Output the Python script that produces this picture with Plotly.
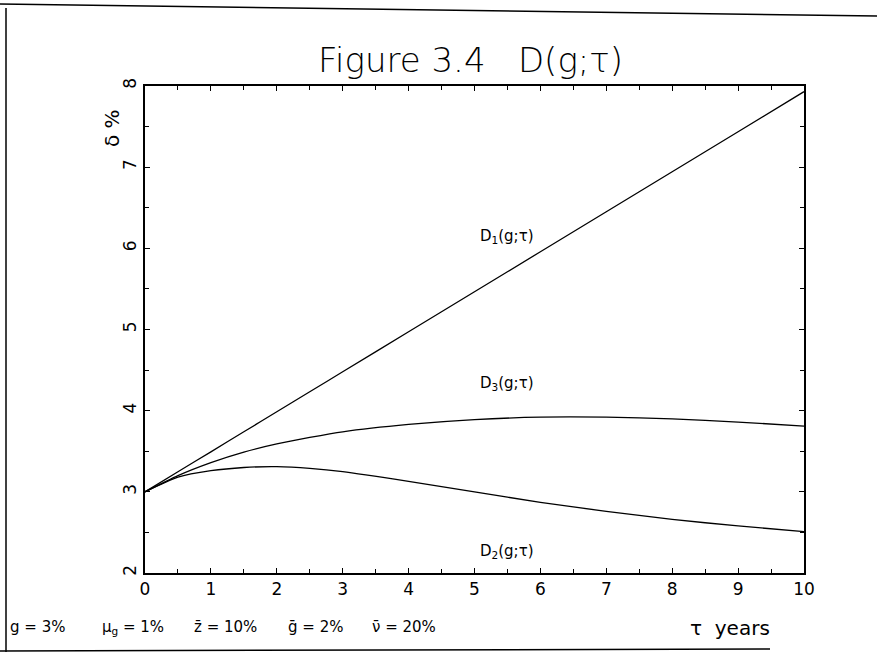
import plotly.graph_objects as go

# maturity in years
tau = [0, 0.5, 1, 1.5, 2, 2.5, 3, 4, 5, 6, 7, 8, 9, 10]

# D1: straight line
d1 = [3.0, 3.247, 3.493, 3.74, 3.986, 4.233, 4.479, 4.972, 5.465, 5.958, 6.451, 6.944, 7.437, 7.93]
# D2: hump then decline
d2 = [3.0, 3.18, 3.26, 3.30, 3.31, 3.29, 3.25, 3.13, 3.00, 2.87, 2.76, 2.66, 2.58, 2.51]
# D3: rises and flattens
d3 = [3.0, 3.20, 3.36, 3.49, 3.59, 3.67, 3.74, 3.83, 3.89, 3.92, 3.92, 3.90, 3.86, 3.81]

x_ticks = list(range(0, 11))
y_ticks = list(range(2, 9))

footnote = ["g = 3%", "μ<sub>g</sub> = 1%", "z\u0304 = 10%", "g\u0304 = 2%", "ν\u0304 = 20%"]
footnote_x = [8, 100, 192, 286, 370]

FONT = "DejaVu Sans"
W, H = 877, 658
L, R, T, B = 145, 804, 86, 573

fig = go.Figure()
for ys in (d1, d2, d3):
    fig.add_trace(go.Scatter(x=tau, y=ys, mode="lines",
                             line=dict(color="black", width=1.3, shape="spline", smoothing=0.6),
                             showlegend=False, hoverinfo="skip"))

axis_common = dict(
    showgrid=False, zeroline=False, showline=True, linecolor="black", linewidth=2,
    mirror="allticks", ticks="inside", ticklen=5, tickcolor="black", tickwidth=1.3,
    minor=dict(ticks="inside", ticklen=4, tickcolor="black", tickwidth=1.3, dtick=0.5),
    tickfont=dict(family=FONT, size=17, color="black"),
)
fig.update_xaxes(range=[0, 10], tickvals=x_ticks, ticktext=[str(v) for v in x_ticks], **axis_common)
fig.update_yaxes(range=[2, 8], tickvals=y_ticks, ticktext=[str(v) for v in y_ticks], tickangle=-90, **axis_common)


def px(x):
    return (x - L) / (R - L)


def py(y):
    return (B - y) / (B - T)


def note(text, x, y, size, xanchor="center", angle=0, weight=400):
    fig.add_annotation(text=text, xref="paper", yref="paper", x=px(x), y=py(y),
                       xanchor=xanchor, yanchor="middle", textangle=angle, showarrow=False,
                       font=dict(family=FONT, size=size, color="black", weight=weight))


note("Figure 3.4   D(g;τ)", 470, 60, 34, weight=200)
note("δ %", 112, 128, 20, angle=-90)
note("τ  years", 730, 628, 20)
for text, x in zip(footnote, footnote_x):
    note(text, x, 627, 15, xanchor="left")

# curve labels in data coordinates
for text, x, y in [("D<sub>1</sub>(g;τ)", 5.5, 6.15), ("D<sub>3</sub>(g;τ)", 5.5, 4.33),
                   ("D<sub>2</sub>(g;τ)", 5.5, 2.27)]:
    fig.add_annotation(text=text, x=x, y=y, showarrow=False, xanchor="center", yanchor="middle",
                       font=dict(family=FONT, size=15, color="black"))

# page frame
frame = dict(type="line", xref="paper", yref="paper", line=dict(color="black", width=1.5))
fig.add_shape(x0=px(0), y0=py(4), x1=px(877), y1=py(16), **frame)
fig.add_shape(x0=px(6), y0=py(8), x1=px(6), y1=py(652), **frame)
fig.add_shape(x0=px(0), y0=py(651), x1=px(770), y1=py(649), **frame)

fig.update_layout(
    width=W, height=H, margin=dict(l=L, r=W - R, t=T, b=H - B),
    paper_bgcolor="white", plot_bgcolor="white",
)
fig.write_html("out.html")
